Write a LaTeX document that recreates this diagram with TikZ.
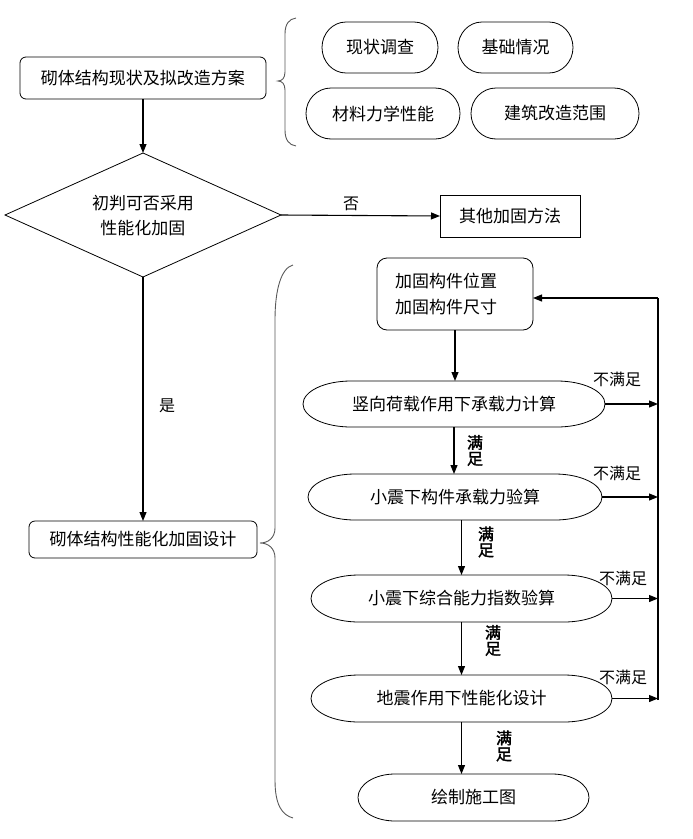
\documentclass[tikz,border=0pt]{standalone}
\usepackage{fontspec}
\setmainfont{Noto Sans CJK SC}
\newfontfamily\cjkbold[FakeBold=2]{Noto Sans CJK SC}
\usetikzlibrary{arrows.meta,calc}
\definecolor{bracegray}{rgb}{0.35,0.35,0.35}
\newcommand\termdraw[3]{%
  \draw[shp] ([xshift=-#2pt]#1.north east) -- ([xshift=#2pt]#1.north west)
    arc[start angle=90,end angle=270,x radius=#2pt,y radius=#3pt]
    -- ([xshift=-#2pt]#1.south east)
    arc[start angle=-90,end angle=90,x radius=#2pt,y radius=#3pt] -- cycle;}
\tikzset{
  shp/.style={line width=0.8pt},
  txt/.style={font=\fontsize{17}{22}\selectfont},
  box/.style={draw, shp, txt, rounded corners=6pt, inner sep=0pt, outer sep=0pt},
  sqbox/.style={draw, shp, txt, inner sep=0pt, outer sep=0pt},
  term/.style={txt, inner sep=0pt, outer sep=0pt},
  arr/.style={-{Triangle[length=9pt,width=7pt]}, line width=1.1pt},
  lbl/.style={font=\fontsize{16}{20}\selectfont, inner sep=0pt},
  oklbl/.style={font=\cjkbold\fontsize{16}{16}\selectfont, align=center, inner sep=0pt},
  brace/.style={draw=bracegray, line width=0.9pt},
}
\begin{document}
\begin{tikzpicture}[x=1pt,y=-1pt]
\useasboundingbox (0,0) rectangle (693,839);

% top-left box
\node[box, minimum width=246pt, minimum height=42pt] (A) at (143,78) {砌体结构现状及拟改造方案};

% first brace
\draw[brace] (296,18) .. controls (289,19) and (285,24) .. (285,34) -- (285,72)
  .. controls (285,78) and (282,81) .. (278,81)
  .. controls (282,81) and (285,84) .. (285,90) -- (285,130)
  .. controls (285,140) and (289,145) .. (296,146);

% four small terminators
\node[term, minimum width=116pt, minimum height=51pt] (s1) at (380,47.5) {现状调查};
\node[term, minimum width=115pt, minimum height=51pt] (s2) at (515.5,47.5) {基础情况};
\node[term, minimum width=154pt, minimum height=51pt] (s3) at (383,113.5) {材料力学性能};
\node[term, minimum width=168pt, minimum height=51pt] (s4) at (555,113.5) {建筑改造范围};
\termdraw{s1}{24}{25.5}
\termdraw{s2}{24}{25.5}
\termdraw{s3}{25}{25.5}
\termdraw{s4}{25}{25.5}

% decision diamond
\node[txt, minimum width=276pt, minimum height=124pt, inner sep=0pt, outer sep=0pt, align=center,
  text depth=0pt] (D) at (143,215) {初判可否采用\\[3pt]性能化加固};
\draw[shp] (D.north) -- (D.east) -- (D.south) -- (D.west) -- cycle;

\node[sqbox, minimum width=140pt, minimum height=42pt] (O) at (510,216) {其他加固方法};

\node[box, minimum width=228pt, minimum height=37pt] (B) at (143,539.5) {砌体结构性能化加固设计};

% second brace
\draw[brace] (293,265) .. controls (281,268) and (275,290) .. (275,320) -- (275,528)
  .. controls (275,538) and (268,543) .. (260,543)
  .. controls (268,543) and (275,548) .. (275,558) -- (275,780)
  .. controls (275,805) and (282,815) .. (293,818);

% reinforcement box
\node[box, rounded corners=10pt, minimum width=156pt, minimum height=72pt, text width=120pt,
  inner xsep=18pt, align=left, font=\fontsize{17}{26}\selectfont] (C) at (455,294)
  {加固构件位置\\加固构件尺寸};

% big terminators
\node[term, minimum width=302pt, minimum height=46pt] (e1) at (454,404) {竖向荷载作用下承载力计算};
\node[term, minimum width=294pt, minimum height=46pt] (e2) at (455,497) {小震下构件承载力验算};
\node[term, minimum width=301pt, minimum height=47pt] (e3) at (461.5,598.5) {小震下综合能力指数验算};
\node[term, minimum width=301pt, minimum height=47pt] (e4) at (461.5,698.5) {地震作用下性能化设计};
\node[term, minimum width=231pt, minimum height=47pt] (e5) at (473.5,797.5) {绘制施工图};
\termdraw{e1}{48}{23}
\termdraw{e2}{47}{23}
\termdraw{e3}{48}{23.5}
\termdraw{e4}{48}{23.5}
\termdraw{e5}{37}{23.5}

% main left flow
\draw[arr] (A.south) -- (D.north);
\draw[arr] (D.east) -- (O.west);
\node[lbl] (no) at (351,204) {否};
\draw[arr] (D.south) -- (B.north);
\node[lbl] (yes) at (167,406) {是};

% right flow
\draw[arr] (C.south) -- (C.south |- e1.north);
\draw[arr] (e1.south) -- (e1.south |- e2.north);
\draw[arr] (e3.north |- e2.south) -- (e3.north);
\draw[arr] (e3.south) -- (e4.north);
\draw[arr] (e4.south) -- (e4.south |- e5.north);

\node[oklbl] (m1) at (475,450.5) {满\\足};
\node[oklbl] (m2) at (486,542) {满\\足};
\node[oklbl] (m3) at (493,640.5) {满\\足};
\node[oklbl] (m4) at (504,746) {满\\足};

% feedback loop
\coordinate (Rtop) at (658,298);
\coordinate (Rbot) at (658,700);
\draw[line width=1.1pt] (Rbot) -- (Rtop);
\draw[arr] (Rtop) -- (Rtop -| C.east);
\draw[arr] (e1.east) -- (e1.east -| Rtop);
\draw[arr] (e2.east) -- (e2.east -| Rtop);
\draw[arr] (e3.east) -- (e3.east -| Rtop);
\draw[arr] (e4.east) -- (e4.east -| Rtop);

\node[lbl] (n1) at (617,379) {不满足};
\node[lbl] (n2) at (617,473) {不满足};
\node[lbl] (n3) at (623,578) {不满足};
\node[lbl] (n4) at (623,677) {不满足};
\end{tikzpicture}
\end{document}
